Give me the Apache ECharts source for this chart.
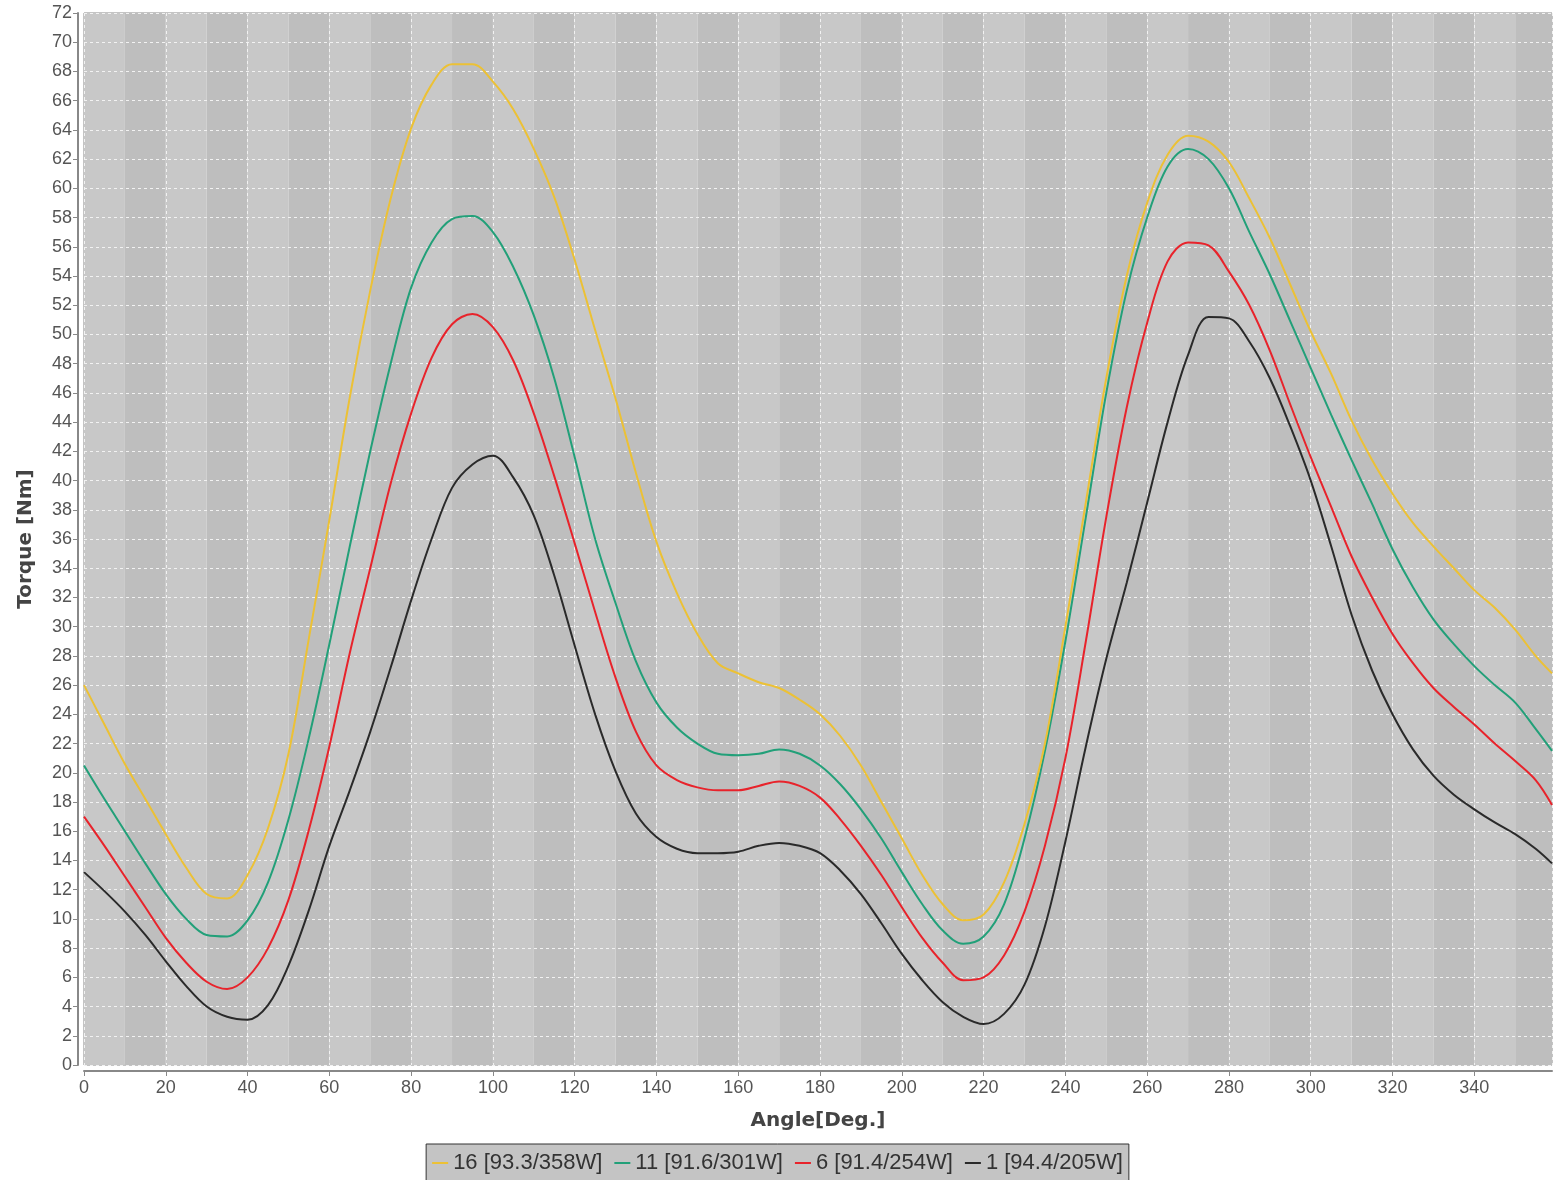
<!DOCTYPE html>
<html>
<head>
<meta charset="utf-8">
<script src="https://cdn.jsdelivr.net/npm/echarts@6/dist/echarts.min.js"></script>
<style>
  html, body { margin: 0; padding: 0; background: #fff; }
  #chart { width: 1555px; height: 1180px; }
</style>
</head>
<body>
<div id="chart"></div>
<script>
var angles = [0, 5, 10, 15, 20, 25, 30, 35, 40, 45, 50, 55, 60, 65, 70, 75, 80, 85, 90, 95,
    100, 105, 110, 115, 120, 125, 130, 135, 140, 145, 150, 155, 160, 165, 170, 175, 180, 185, 190, 195,
    200, 205, 210, 215, 220, 225, 230, 235, 240, 245, 250, 255, 260, 265, 270, 275, 280, 285, 290, 295,
    300, 305, 310, 315, 320, 325, 330, 335, 340, 345, 350, 355, 359];

var torque16 = [26, 23.3, 20.6, 18.2, 15.8, 13.5, 11.7, 11.4, 13, 16.2, 21.3, 29.2, 37.3, 45.7, 53, 59.3, 64.1, 67.1, 68.5, 68.5,
    67.3, 65.4, 62.7, 59.4, 55.1, 50.3, 45.6, 40.5, 35.8, 32.3, 29.5, 27.5, 26.8, 26.2, 25.8, 25, 24, 22.5, 20.5, 18,
    15.5, 13, 11, 9.9, 10.3, 12.5, 16.5, 22, 30, 38.5, 47, 54, 59, 62.3, 63.6, 63.2, 61.8, 59.3, 56.6, 53.4,
    50.2, 47.3, 44.1, 41.4, 39.1, 37.1, 35.5, 34, 32.5, 31.3, 29.8, 28, 26.8];

var torque11 = [20.5, 18.2, 16, 13.8, 11.7, 10, 8.9, 8.8, 9.9, 12.5, 16.8, 22.4, 28.8, 35.5, 42, 48, 53.2, 56.3, 57.9, 58.1,
    57, 54.6, 51.3, 47, 41.6, 36, 31.6, 27.6, 24.8, 23.1, 22, 21.3, 21.2, 21.3, 21.6, 21.3, 20.5, 19.2, 17.5, 15.5,
    13.2, 11, 9.2, 8.3, 8.8, 11, 15.5, 21.5, 29, 37.5, 46, 53, 58, 61.5, 62.7, 62, 60, 57, 54.1, 50.9,
    47.7, 44.5, 41.4, 38.4, 35.3, 32.7, 30.5, 28.8, 27.3, 26, 24.8, 23, 21.5];

var torque6 = [17, 15, 12.9, 10.8, 8.7, 7, 5.7, 5.2, 6, 8, 11.3, 16.1, 21.8, 28.2, 34, 39.8, 44.6, 48.4, 50.7, 51.4,
    50.5, 48.2, 44.6, 40.3, 35.7, 31, 26.5, 22.8, 20.5, 19.5, 19, 18.8, 18.8, 19.1, 19.4, 19.1, 18.3, 16.8, 15, 13,
    10.8, 8.7, 7, 5.8, 6, 7.5, 10.5, 15, 21, 29, 37.5, 45, 50.8, 55, 56.3, 56.1, 54.3, 52, 48.9, 45.2,
    41.6, 38.2, 34.8, 32, 29.5, 27.5, 25.8, 24.5, 23.3, 22, 20.8, 19.5, 17.8];

var torque1 = [13.2, 11.9, 10.5, 8.9, 7.1, 5.4, 4, 3.3, 3.1, 4.1, 6.8, 10.6, 15, 18.8, 22.8, 27.2, 31.8, 36, 39.5, 41.1,
    41.7, 40.2, 37.6, 33.5, 28.7, 24, 20.1, 17.2, 15.6, 14.8, 14.5, 14.5, 14.6, 15, 15.2, 15, 14.5, 13.3, 11.7, 9.7,
    7.6, 5.8, 4.3, 3.3, 2.8, 3.5, 5.5, 9.5, 15.3, 21.8, 27.8, 33, 38.5, 44, 48.6, 51.2, 51.1, 49.5, 47, 43.7,
    40, 35.5, 30.8, 27, 24, 21.6, 19.8, 18.5, 17.5, 16.6, 15.8, 14.8, 13.8];

var seriesNames = ['16 [93.3/358W]', '11 [91.6/301W]', '6 [91.4/254W]', '1 [94.4/205W]'];
var seriesColors = ['#ecc135', '#22a079', '#e8232b', '#2a2a2a'];
var seriesValues = [torque16, torque11, torque6, torque1];

var chart = echarts.init(document.getElementById('chart'));

function pairs(values) {
    return angles.map(function (a, i) { return [a, values[i]]; });
}

var series = seriesNames.map(function (name, i) {
    return {
        name: name,
        type: 'line',
        xAxisIndex: 0,
        yAxisIndex: 0,
        smooth: 0.35,
        symbol: 'none',
        lineStyle: { color: seriesColors[i], width: 2 },
        itemStyle: { color: seriesColors[i] },
        data: pairs(seriesValues[i]),
        z: 10 - i
    };
});

var gridLine = { show: true, lineStyle: { color: '#f2f2f2', type: [3, 3], width: 1 } };
var axisLabelStyle = { color: '#555', fontSize: 18, fontFamily: 'Liberation Sans, Arial, sans-serif' };
var axisNameStyle = { color: '#444', fontSize: 20, fontWeight: 'bold', fontFamily: 'DejaVu Sans, sans-serif' };

var option = {
    animation: false,
    backgroundColor: '#ffffff',
    grid: {
        left: 84, right: 3, top: 13, bottom: 115,
        show: true, borderColor: '#888', borderWidth: 1, backgroundColor: 'transparent'
    },
    legend: {
        bottom: -6,
        left: 'center',
        data: seriesNames,
        icon: 'rect',
        itemWidth: 16,
        itemHeight: 2,
        itemGap: 12,
        padding: [8, 6, 12, 6],
        backgroundColor: '#c4c4c4',
        borderColor: '#333',
        borderWidth: 1,
        borderRadius: 0,
        textStyle: { color: '#333', fontSize: 22, fontFamily: 'Liberation Sans Narrow, Liberation Sans, Arial, sans-serif', padding: [0, 0, 0, 0] }
    },
    xAxis: [{
        type: 'value',
        min: 0, max: 359, interval: 20,
        offset: 6,
        name: 'Angle[Deg.]',
        nameLocation: 'middle',
        nameGap: 40,
        nameTextStyle: axisNameStyle,
        axisLine: { show: true, onZero: false, lineStyle: { color: '#888', width: 2 } },
        axisTick: { show: true, length: 5, lineStyle: { color: '#888' } },
        axisLabel: Object.assign({ margin: 8, showMaxLabel: false }, axisLabelStyle),
        splitLine: gridLine,
        z: 3
    }, {
        type: 'value',
        min: 0, max: 359, interval: 10,
        show: true,
        axisLine: { show: false }, axisTick: { show: false }, axisLabel: { show: false },
        splitLine: { show: false },
        splitArea: { show: true, areaStyle: { color: ['#c8c8c8', '#bebebe'] } },
        z: 0
    }],
    yAxis: [{
        type: 'value',
        min: 0, max: 72, interval: 2,
        offset: 6,
        name: 'Torque [Nm]',
        nameLocation: 'middle',
        nameGap: 42,
        nameRotate: 90,
        nameTextStyle: axisNameStyle,
        axisLine: { show: true, onZero: false, lineStyle: { color: '#888', width: 2 } },
        axisTick: { show: true, length: 5, lineStyle: { color: '#888' } },
        axisLabel: Object.assign({ margin: 6 }, axisLabelStyle),
        splitLine: gridLine,
        z: 3
    }],
    series: series
};

chart.setOption(option);
</script>
</body>
</html>
